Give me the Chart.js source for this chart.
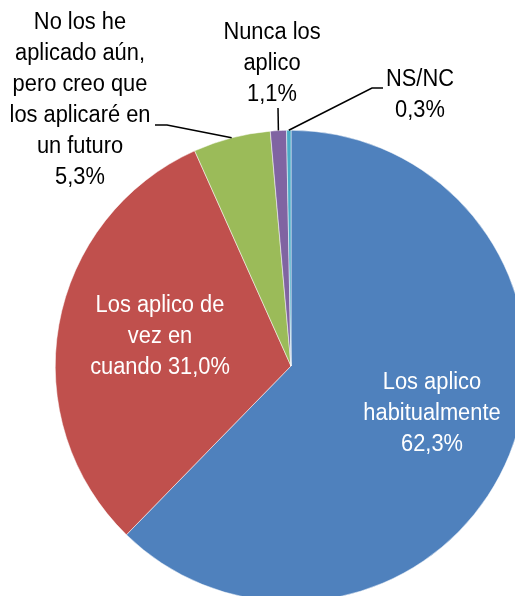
<!DOCTYPE html>
<html>
<head>
<meta charset="utf-8">
<script src="https://cdn.jsdelivr.net/npm/chart.js@4/dist/chart.umd.min.js"></script>
<style>
  html, body { margin: 0; padding: 0; background: #fff; overflow: hidden; }
  #wrap { position: absolute; left: 0; top: 0; width: 560px; height: 640px; }
</style>
</head>
<body>
<div id="wrap"><canvas id="pie" width="560" height="640"></canvas></div>
<script>
// Respuestas (%)
const categories = [
  'Los aplico habitualmente',
  'Los aplico de vez en cuando',
  'No los he aplicado aún, pero creo que los aplicaré en un futuro',
  'Nunca los aplico',
  'NS/NC',
];
const values = [62.3, 31.0, 5.3, 1.1, 0.3];
const colors = ['#4F81BD', '#C0504D', '#9BBB59', '#8064A2', '#4BACC6'];

// label text lines (the % line is appended from values)
const labelLines = [
  ['Los aplico', 'habitualmente'],
  ['Los aplico de', 'vez en', 'cuando'],
  ['No los he', 'aplicado aún,', 'pero creo que', 'los aplicaré en', 'un futuro'],
  ['Nunca los', 'aplico'],
  ['NS/NC'],
];

const fmt = v => v.toFixed(1).replace('.', ',') + '%';
const FONT = '"Liberation Sans Narrow", "Arial Narrow", "Liberation Sans", Arial, sans-serif';

// label placement: text centre x, first line middle y, inline pct, leader elbow/end
const labelLayout = [
  { x: 432, y: 383, color: '#fff', inline: false },
  { x: 160, y: 306, color: '#fff', inline: true },
  { x: 80,  y: 23,  color: '#000', inline: false, leader: [[167, 125], [155, 125]] },
  { x: 272, y: 33,  color: '#000', inline: false, leader: [[278, 108]] },
  { x: 420, y: 80,  color: '#000', inline: false, leader: [[372, 88], [383, 88]] },
];

const labelsPlugin = {
  id: 'pieLabels',
  afterDatasetsDraw(chart) {
    const ctx = chart.ctx;
    const meta = chart.getDatasetMeta(0);
    meta.data.forEach((arc, i) => {
      const L = labelLayout[i];
      const { x, y, startAngle, endAngle, outerRadius } = arc.getProps(['x', 'y', 'startAngle', 'endAngle', 'outerRadius'], true);
      ctx.save();
      if (L.leader) {
        const mid = (startAngle + endAngle) / 2;
        ctx.beginPath();
        ctx.moveTo(x + Math.cos(mid) * outerRadius, y + Math.sin(mid) * outerRadius);
        L.leader.forEach(p => ctx.lineTo(p[0], p[1]));
        ctx.strokeStyle = '#000';
        ctx.lineWidth = 1.5;
        ctx.stroke();
      }
      const lines = labelLines[i].slice();
      if (L.inline) lines[lines.length - 1] += ' ' + fmt(values[i]);
      else lines.push(fmt(values[i]));
      ctx.fillStyle = L.color;
      ctx.font = '23px ' + FONT;
      ctx.textAlign = 'center';
      ctx.textBaseline = 'middle';
      // slightly condensed, like the narrow face of the original
      ctx.translate(L.x, L.y);
      ctx.scale(0.95, 1);
      lines.forEach((t, k) => ctx.fillText(t, 0, k * 31));
      ctx.restore();
    });
  }
};

new Chart(document.getElementById('pie'), {
  type: 'pie',
  data: {
    labels: categories,
    datasets: [{
      data: values,
      backgroundColor: colors,
      borderColor: '#ffffff',
      borderWidth: 0.5,
    }],
  },
  options: {
    responsive: false,
    devicePixelRatio: 1,
    animation: false,
    layout: { padding: { left: 55, right: 33, top: 130, bottom: 38 } },
    plugins: {
      legend: { display: false },
      tooltip: { enabled: false },
    },
  },
  plugins: [labelsPlugin],
});
</script>
</body>
</html>
